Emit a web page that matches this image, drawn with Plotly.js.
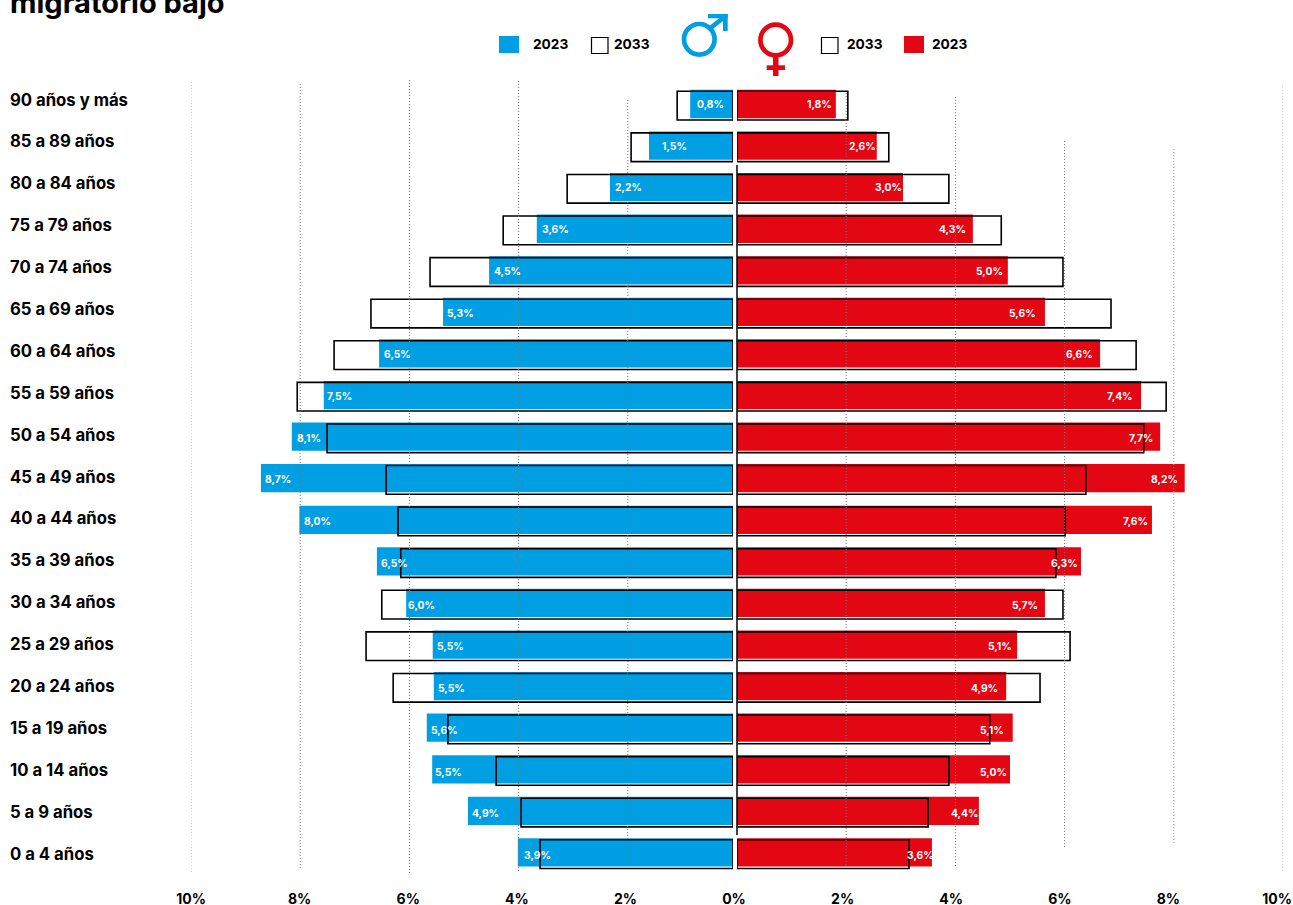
<!DOCTYPE html>
<html>
<head>
<meta charset="utf-8">
<script src="https://cdn.plot.ly/plotly-3.0.1.min.js"></script>
<style>html,body{margin:0;padding:0;background:#fff;overflow:hidden}</style>
</head>
<body>
<div id="chart" style="width:1293px;height:905px"></div>
<script>
// ---------- data (top row first) ----------
const ageGroups = ["90 años y más","85 a 89 años","80 a 84 años","75 a 79 años","70 a 74 años","65 a 69 años","60 a 64 años","55 a 59 años","50 a 54 años","45 a 49 años","40 a 44 años","35 a 39 años","30 a 34 años","25 a 29 años","20 a 24 años","15 a 19 años","10 a 14 años","5 a 9 años","0 a 4 años"];
const male2023 = [0.79,1.55,2.27,3.62,4.50,5.35,6.53,7.55,8.14,8.71,8.00,6.57,6.03,5.54,5.52,5.65,5.55,4.89,3.97];
const male2033 = [1.03,1.88,3.06,4.24,5.59,6.68,7.36,8.04,7.49,6.40,6.18,6.13,6.48,6.77,6.27,5.26,4.37,3.91,3.56];
const female2023 = [1.81,2.56,3.04,4.32,4.96,5.64,6.65,7.40,7.75,8.20,7.60,6.30,5.64,5.13,4.93,5.05,5.00,4.43,3.57];
const female2033 = [2.03,2.78,3.88,4.84,5.97,6.85,7.31,7.86,7.45,6.39,6.01,5.84,5.97,6.10,5.55,4.63,3.88,3.50,3.15];
const maleLabels = ["0,8%","1,5%","2,2%","3,6%","4,5%","5,3%","6,5%","7,5%","8,1%","8,7%","8,0%","6,5%","6,0%","5,5%","5,5%","5,6%","5,5%","4,9%","3,9%"];
const femaleLabels = ["1,8%","2,6%","3,0%","4,3%","5,0%","5,6%","6,6%","7,4%","7,7%","8,2%","7,6%","6,3%","5,7%","5,1%","4,9%","5,1%","5,0%","4,4%","3,6%"];
const axisValues = [-10,-8,-6,-4,-2,0,2,4,6,8,10];
const axisLabels = ["10%","8%","6%","4%","2%","0%","2%","4%","6%","8%","10%"];
const legendYear1 = "2023";
const legendYear2 = "2033";
const titleText = "migratorio bajo";

// ---------- styles and placement ----------
const W = 1293, H = 905;
const BLUE = "#009FE3", RED = "#E30613";
const FONT = "Inter, 'Liberation Sans', sans-serif";
const px = v => v / W;
const py = v => 1 - v / H;
const maleLabelInset = [5,11,3,3,3,2,3,1,3,2,3,2,0,2,2,2,1,2,4];
const femaleLabelInset = [2,-1,-1,5,3,7,5,6,5,5,2,1,5,3,6,7,1,-1,-4];
const gridLines = [[-10,82,872,"#aaa"],[-8,84,868,"#777"],[-6,80,873,"#777"],[-4,81,873,"#777"],[-2,100,865,"#777"],
                   [2,90,867,"#777"],[4,97,867,"#777"],[6,141,847,"#777"],[8,149,843,"#999"],[10,84,872,"#aaa"]];

const barWidth = 0.68;
function bars(x, xa, color, isOutline) {
  return {
    type: "bar", orientation: "h", y: ageGroups, x: x, xaxis: xa, yaxis: "y",
    width: isOutline ? 0.69 : barWidth,
    offset: isOutline ? -0.345 + 0.04 : -barWidth / 2,
    marker: isOutline
      ? {color: "rgba(255,255,255,0)", line: {color: "#000", width: 1.6}}
      : {color: color, line: {width: 0}},
    hoverinfo: "skip", showlegend: false
  };
}
const traces = [
  bars(male2023, "x", BLUE, false),
  bars(female2023, "x2", RED, false),
  bars(male2033, "x", null, true),
  bars(female2033, "x2", null, true),
  {type: "scatter", mode: "none", x: [0], y: [0], xaxis: "x3", yaxis: "y3", hoverinfo: "skip", showlegend: false},
  {type: "scatter", mode: "none", x: [0], y: [0], xaxis: "x4", yaxis: "y3", hoverinfo: "skip", showlegend: false}
];

const shapes = [];
gridLines.forEach(g => shapes.push({type:"line", layer:"above", xref:"x4", yref:"paper", x0:g[0], x1:g[0], y0:py(g[1]), y1:py(g[2]), line:{color:g[3], width:1, dash:"1px,2px"}}));
// centre line
shapes.push({type:"line", layer:"above", xref:"paper", yref:"paper", x0:px(737), x1:px(737), y0:py(165), y1:py(835), line:{color:"#111", width:1.6}});
// legend swatches
function box(x0, x1, y0, y1, fill, line) {
  shapes.push({type:"rect", xref:"paper", yref:"paper", x0:px(x0), x1:px(x1), y0:py(y0), y1:py(y1), fillcolor:fill, line: line ? {color:"#000", width:1.2} : {width:0}});
}
box(499,519,36,53,BLUE,false);
box(591.5,608,37.5,53.5,"#fff",true);
box(821.5,838,37.5,53.5,"#fff",true);
box(904,924,36,53,RED,false);
// male symbol
shapes.push({type:"circle", xref:"paper", yref:"paper", x0:px(699.3-15.3), x1:px(699.3+15.3), y0:py(39.3-15.3), y1:py(39.3+15.3), line:{color:BLUE, width:4.7}, fillcolor:"rgba(0,0,0,0)"});
shapes.push({type:"line", xref:"paper", yref:"paper", x0:px(710.5), x1:px(725), y0:py(28), y1:py(16.5), line:{color:BLUE, width:4.7}});
shapes.push({type:"rect", xref:"paper", yref:"paper", x0:px(708), x1:px(727.7), y0:py(14), y1:py(18.3), fillcolor:BLUE, line:{width:0}});
shapes.push({type:"rect", xref:"paper", yref:"paper", x0:px(723), x1:px(727.7), y0:py(14), y1:py(31), fillcolor:BLUE, line:{width:0}});
// female symbol
shapes.push({type:"circle", xref:"paper", yref:"paper", x0:px(775.7-15.3), x1:px(775.7+15.3), y0:py(40-15.3), y1:py(40+15.3), line:{color:RED, width:4.7}, fillcolor:"rgba(0,0,0,0)"});
shapes.push({type:"rect", xref:"paper", yref:"paper", x0:px(773), x1:px(778.5), y0:py(57), y1:py(76), fillcolor:RED, line:{width:0}});
shapes.push({type:"rect", xref:"paper", yref:"paper", x0:px(766.7), x1:px(785), y0:py(65.3), y1:py(70), fillcolor:RED, line:{width:0}});

const annotations = [];
ageGroups.forEach((a, i) => annotations.push({text:a, xref:"paper", yref:"y3", x:px(8), y:i, xanchor:"left", yanchor:"middle", showarrow:false, font:{family:FONT, size:16.7, color:"#000", weight:700}}));
male2023.forEach((v, i) => annotations.push({text:maleLabels[i], xref:"x", yref:"y", x:v, y:i, xanchor:"left", yanchor:"middle", xshift:maleLabelInset[i], yshift:-i*0.14, showarrow:false, font:{family:FONT, size:10.3, color:"#fff", weight:700}}));
female2023.forEach((v, i) => annotations.push({text:femaleLabels[i], xref:"x2", yref:"y", x:v, y:i, xanchor:"right", yanchor:"middle", xshift:-femaleLabelInset[i], yshift:-i*0.14, showarrow:false, font:{family:FONT, size:10.3, color:"#fff", weight:700}}));
function legendText(t, x) {
  annotations.push({text:t, xref:"paper", yref:"paper", x:px(x), y:py(44.5), xanchor:"left", yanchor:"middle", showarrow:false, font:{family:FONT, size:13.7, color:"#000", weight:700}});
}
legendText(legendYear1, 531);
legendText(legendYear2, 612);
legendText(legendYear2, 845);
legendText(legendYear1, 930);

const layout = {
  width: W, height: H,
  margin: {l:0, r:0, t:0, b:0, pad:0},
  paper_bgcolor: "#fff", plot_bgcolor: "rgba(0,0,0,0)",
  barmode: "overlay",
  showlegend: false,
  title: {text:titleText, x:px(10), xanchor:"left", xref:"paper", y:py(3), yref:"paper", yanchor:"middle", font:{family:FONT, size:29, color:"#000", weight:700}},
  xaxis: {domain:[px(191),px(733)], range:[10,0], visible:false, fixedrange:true, anchor:"y"},
  xaxis2: {domain:[px(737),px(1283)], range:[0,10], visible:false, fixedrange:true, anchor:"y"},
  xaxis3: {domain:[px(191),px(1277)], range:[-10,10], anchor:"free", position:py(888.5), side:"bottom", tickmode:"array", tickvals:axisValues, ticktext:axisLabels, ticks:"", showgrid:false, zeroline:false, showline:false, tickfont:{family:FONT, size:14, color:"#000", weight:700}, fixedrange:true},
  xaxis4: {domain:[px(191),px(1283)], range:[-10,10], visible:false, fixedrange:true, anchor:"y3"},
  yaxis: {domain:[0,1], type:"category", categoryorder:"array", categoryarray:ageGroups, range:[(H-104)/41.58, -104/41.58], visible:false, fixedrange:true, anchor:"x"},
  yaxis3: {domain:[0,1], range:[(H-99.5)/41.89, -99.5/41.89], visible:false, fixedrange:true, anchor:"x3"},
  shapes: shapes,
  annotations: annotations
};
Plotly.newPlot("chart", traces, layout, {displayModeBar:false, responsive:false});
</script>
</body>
</html>
